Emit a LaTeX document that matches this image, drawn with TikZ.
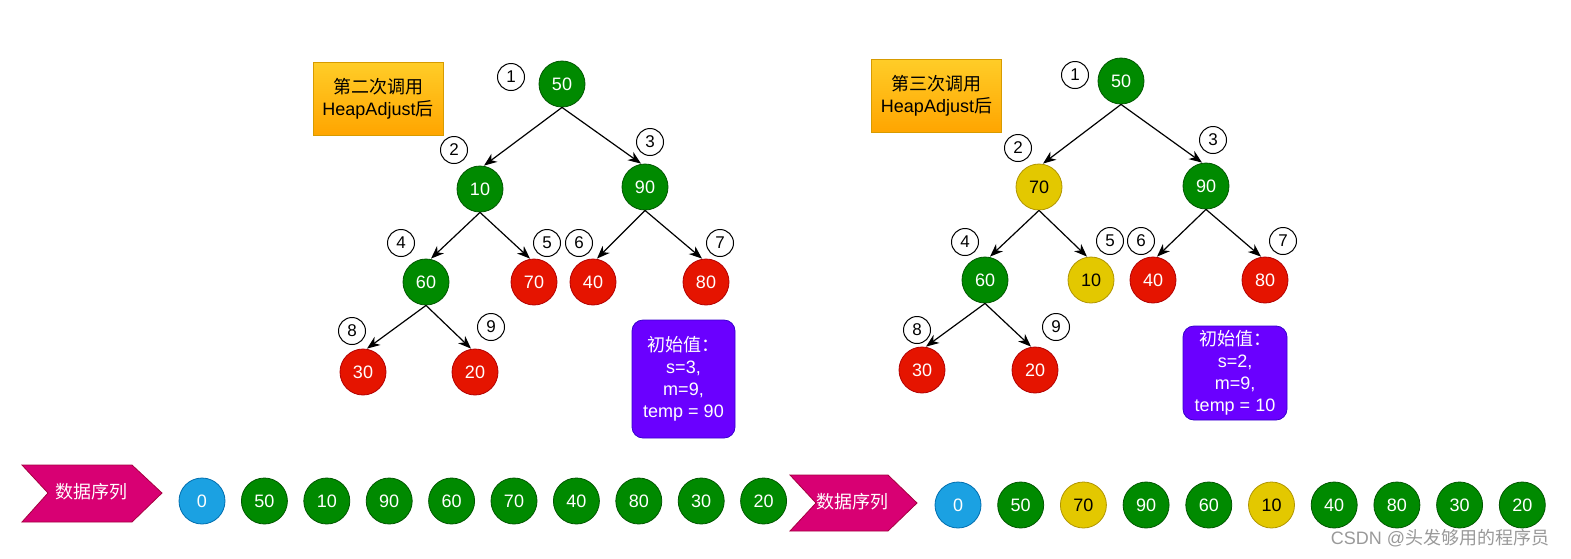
\documentclass[tikz,border=0pt]{standalone}
\usepackage{fontspec}
\setmainfont{Liberation Sans}
\newfontfamily\cjk{Noto Sans CJK SC}
\usetikzlibrary{arrows.meta}

\definecolor{ggreen}{HTML}{008A00}
\definecolor{ggreenline}{HTML}{005700}
\definecolor{rred}{HTML}{E51400}
\definecolor{rredline}{HTML}{B20000}
\definecolor{yyellow}{HTML}{E3C800}
\definecolor{yyellowline}{HTML}{B09500}
\definecolor{bblue}{HTML}{1BA1E2}
\definecolor{bblueline}{HTML}{006EAF}
\definecolor{ppurple}{HTML}{6A00FF}
\definecolor{ppurpleline}{HTML}{3700CC}
\definecolor{mmagenta}{HTML}{D80073}
\definecolor{mmagentaline}{HTML}{A50040}
\definecolor{otop}{HTML}{FFCD28}
\definecolor{obottom}{HTML}{FFA500}
\definecolor{oline}{HTML}{D79B00}

\begin{document}
\begin{tikzpicture}[x=1pt,y=-1pt,
  ball/.style={circle, minimum size=46pt, inner sep=0pt, line width=0.8pt, font=\fontsize{18}{20}\selectfont},
  gball/.style={ball, fill=ggreen, draw=ggreenline, text=white},
  rball/.style={ball, fill=rred, draw=rredline, text=white},
  yball/.style={ball, fill=yyellow, draw=yyellowline, text=black},
  bball/.style={ball, fill=bblue, draw=bblueline, text=white},
  idx/.style={circle, draw=black, line width=1pt, fill=white, minimum size=27pt, inner sep=0pt, font=\fontsize{17}{17}\selectfont},
  link/.style={black, line width=1.2pt, -{Stealth[length=13pt,width=10pt,inset=4pt]}},
  note/.style={draw=oline, line width=1pt, top color=otop, bottom color=obottom, minimum width=130pt, minimum height=73pt, align=center, font=\fontsize{18}{22}\selectfont},
  init/.style={draw=ppurpleline, line width=0.8pt, fill=ppurple, rounded corners=11pt, text=white, align=center, font=\fontsize{18}{22}\selectfont},
  arrow/.style={fill=mmagenta, draw=mmagentaline, line width=0.8pt},
]
\useasboundingbox (0,0) rectangle (1571,558);

% second call
\node[note] (call2) at (378,98.5) {{\cjk 第二次调用}\\HeapAdjust{\cjk 后}};
\node[gball] (a1) at (562,84) {50};
\node[gball] (a2) at (480,189) {10};
\node[gball] (a3) at (645,187) {90};
\node[gball] (a4) at (426,282) {60};
\node[rball] (a5) at (534,282) {70};
\node[rball] (a6) at (593,282) {40};
\node[rball] (a7) at (706,282) {80};
\node[rball] (a8) at (363,372) {30};
\node[rball] (a9) at (475,372) {20};
\draw[link] (a1.south) -- ([xshift=4pt]a2.north);
\draw[link] (a1.south) -- ([xshift=-4pt]a3.north);
\draw[link] (a2.south) -- ([xshift=5pt]a4.north);
\draw[link] (a2.south) -- ([xshift=-4pt]a5.north);
\draw[link] (a3.south) -- ([xshift=4pt]a6.north);
\draw[link] (a3.south) -- ([xshift=-4pt]a7.north);
\draw[link] (a4.south) -- ([xshift=4pt]a8.north);
\draw[link] (a4.south) -- ([xshift=-4pt]a9.north);
\node[idx] (ai1) at (511,77) {1};
\node[idx] (ai2) at (454,150) {2};
\node[idx] (ai3) at (650,142) {3};
\node[idx] (ai4) at (401,243) {4};
\node[idx] (ai5) at (547,243) {5};
\node[idx] (ai6) at (579,243) {6};
\node[idx] (ai7) at (720,243) {7};
\node[idx] (ai8) at (352,331) {8};
\node[idx] (ai9) at (491,327) {9};
\node[init, minimum width=103pt, minimum height=118pt] (start2) at (683.5,379) {{\cjk 初始值：}\\s=3,\\m=9,\\temp = 90};

% third call
\node[note] (call3) at (936.5,95.5) {{\cjk 第三次调用}\\HeapAdjust{\cjk 后}};
\node[gball] (b1) at (1121,81) {50};
\node[yball] (b2) at (1039,187) {70};
\node[gball] (b3) at (1206,186) {90};
\node[gball] (b4) at (985,280) {60};
\node[yball] (b5) at (1091,280) {10};
\node[rball] (b6) at (1153,280) {40};
\node[rball] (b7) at (1265,280) {80};
\node[rball] (b8) at (922,370) {30};
\node[rball] (b9) at (1035,370) {20};
\draw[link] (b1.south) -- ([xshift=4pt]b2.north);
\draw[link] (b1.south) -- ([xshift=-4pt]b3.north);
\draw[link] (b2.south) -- ([xshift=5pt]b4.north);
\draw[link] (b2.south) -- ([xshift=-4pt]b5.north);
\draw[link] (b3.south) -- ([xshift=4pt]b6.north);
\draw[link] (b3.south) -- ([xshift=-4pt]b7.north);
\draw[link] (b4.south) -- ([xshift=4pt]b8.north);
\draw[link] (b4.south) -- ([xshift=-4pt]b9.north);
\node[idx] (bi1) at (1075,75) {1};
\node[idx] (bi2) at (1018,148) {2};
\node[idx] (bi3) at (1213,140) {3};
\node[idx] (bi4) at (965,242) {4};
\node[idx] (bi5) at (1110,241) {5};
\node[idx] (bi6) at (1141,241) {6};
\node[idx] (bi7) at (1283,241) {7};
\node[idx] (bi8) at (917,330) {8};
\node[idx] (bi9) at (1056,327) {9};
\node[init, minimum width=104pt, minimum height=94pt] (start3) at (1235,373) {{\cjk 初始值：}\\s=2,\\m=9,\\temp = 10};

% data rows
\draw[arrow] (22,465) -- (132,465) -- (162,493) -- (132,522) -- (22,522) -- (48,493) -- cycle;
\node[text=white, font=\cjk\fontsize{18}{20}\selectfont] (seqa) at (91,492) {数据序列};
\foreach \v/\s [count=\i from 0] in {0/bball,50/gball,10/gball,90/gball,60/gball,70/gball,40/gball,80/gball,30/gball,20/gball}
  \node[\s] (sa\i) at ({202+62.4*\i},501) {\v};

\draw[arrow] (790,475) -- (888,475) -- (917,503) -- (888,531) -- (790,531) -- (816,503) -- cycle;
\node[text=white, font=\cjk\fontsize{18}{20}\selectfont] (seqb) at (852,502) {数据序列};
\foreach \v/\s [count=\i from 0] in {0/bball,50/gball,70/yball,90/gball,60/gball,10/yball,40/gball,80/gball,30/gball,20/gball}
  \node[\s] (sb\i) at ({958+62.7*\i},505) {\v};

\node[text=black!40, font=\fontsize{18}{18}\selectfont] (mark) at (1440,538) {CSDN @{\cjk 头发够用的程序员}};
\end{tikzpicture}
\end{document}
